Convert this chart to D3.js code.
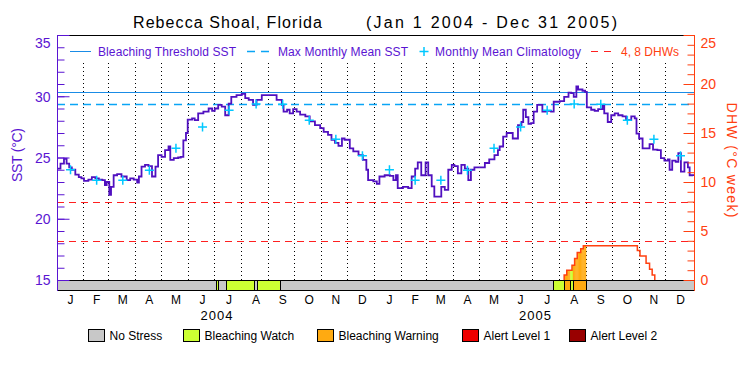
<!DOCTYPE html>
<meta charset="utf-8">
<style>
  body { margin: 0; background: #fff; }
  svg text { font-family: "Liberation Sans", Arial, sans-serif; }
</style>
<body>
<div id="chart"></div>
<script src="https://cdn.jsdelivr.net/npm/d3@7"></script>
<script>
  // ---- values ----
  var siteName = "Rebecca Shoal, Florida";
  var dateRange = "(Jan 1 2004 - Dec 31 2005)";
  var startDate = "2004-01-01", endDate = "2006-01-01";

  var monthLetters = ["J", "F", "M", "A", "M", "J", "J", "A", "S", "O", "N", "D"];
  var yearLabels = ["2004", "2005"];

  // monthly mean climatology (°C), Jan..Dec
  var climatology = [24.0, 23.15, 23.15, 23.95, 25.75, 27.5, 28.85, 29.37, 29.35, 28.05, 26.5, 25.15];
  var maxMonthlyMean = 29.37;
  var bleachThreshold = 30.37;
  var dhwLevels = [4, 8];

  // SST, day offset from Jan 1 2004
  var sstDay = [0, 4, 8, 11, 14, 17, 21, 25, 28, 31, 36, 40, 44, 48, 52, 55, 57, 60, 62, 65, 69, 74, 80, 84, 88, 92, 94, 97,
    101, 105, 109, 113, 116, 120, 124, 128, 130, 134, 139, 142, 145, 148, 150, 155, 158, 162, 168, 174, 178, 181, 185, 189,
    193, 197, 200, 206, 212, 216, 220, 225, 229, 235, 246, 252, 258, 260, 264, 267, 271, 275, 279, 285, 290, 296, 302, 306,
    311, 315, 319, 323, 327, 330, 336, 340, 346, 351, 355, 357, 363, 367, 370, 376, 382, 386, 389, 391, 397, 403, 407, 411,
    414, 418, 423, 426, 430, 433, 437, 441, 445, 449, 453, 456, 460, 464, 468, 472, 475, 479, 485, 491, 496, 502, 506, 508,
    512, 516, 520, 523, 527, 529, 533, 535, 538, 541, 544, 547, 551, 555, 557, 561, 567, 570, 577, 582, 587, 590, 593, 596,
    598, 603, 606, 608, 613, 617, 621, 626, 628, 632, 636, 640, 644, 649, 653, 659, 663, 665, 668, 672, 676, 680, 684, 689,
    693, 697, 701, 703, 706, 710, 713, 716, 720, 724, 726, 730];
  var sstValue = [24.1, 24.5, 24.9, 24.5, 24.2, 24.0, 23.6, 23.4, 23.3, 23.1, 23.2, 23.4, 23.3, 23.2, 23.15, 22.75, 23.0, 21.95,
    22.6, 23.55, 23.65, 23.45, 23.15, 23.3, 23.2, 22.95, 23.45, 24.25, 24.4, 24.3, 23.45, 24.25, 25.2, 25.05, 25.6, 25.9, 24.8,
    24.95, 25.0, 25.05, 26.4, 27.0, 28.1, 28.2, 28.05, 28.6, 28.75, 29.0, 28.8, 29.0, 29.3, 29.15, 28.45, 29.4, 29.95, 30.1,
    30.2, 29.85, 29.7, 29.3, 29.7, 30.1, 30.1, 29.7, 29.3, 28.75, 28.9, 28.6, 28.95, 28.75, 28.5, 28.35, 27.95, 27.65, 27.4,
    27.1, 26.85, 26.45, 26.2, 25.95, 26.55, 26.45, 25.75, 25.5, 25.2, 24.8, 24.0, 23.15, 23.05, 22.85, 23.45, 23.55, 23.5,
    23.15, 23.55, 22.5, 22.6, 22.5, 23.45, 24.1, 24.6, 23.55, 24.6, 23.55, 22.65, 21.8, 21.8, 22.6, 22.35, 24.0, 24.4, 24.3,
    23.7, 24.4, 24.1, 23.15, 24.0, 24.2, 24.2, 24.55, 24.85, 25.2, 25.6, 25.9, 26.7, 27.0, 27.0, 26.55, 26.55, 27.65, 27.9,
    28.9, 28.3, 27.75, 27.8, 28.75, 29.3, 29.3, 28.75, 28.8, 28.75, 29.55, 29.6, 29.95, 30.3, 30.25, 29.95, 30.8, 30.55,
    30.45, 30.35, 29.1, 28.9, 28.8, 28.95, 29.3, 28.6, 27.9, 28.45, 28.6, 28.45, 28.35, 28.05, 28.35, 28.2, 26.95, 26.55,
    25.75, 25.75, 26.1, 25.65, 25.6, 24.95, 24.75, 24.85, 24.0, 24.75, 24.65, 25.35, 23.85, 24.6, 24.2, 23.55, 23.5];

  // degree heating weeks (step changes)
  var dhwDay = [582, 585, 591, 594, 597, 601, 604, 666, 669, 676, 680, 683, 686];
  var dhwValue = [0.5, 1.0, 1.5, 2.2, 2.8, 3.2, 3.5, 3.0, 2.45, 1.7, 1.1, 0.5, 0];

  // bleaching alert status (segment start day, level)
  var statusNames = ["No Stress", "Bleaching Watch", "Bleaching Warning", "Alert Level 1", "Alert Level 2"];
  var statusColors = ["#c8c8c8", "#ccff33", "#ffaa11", "#ee0000", "#990000"];
  var statusStart = [0, 183, 185, 194, 226, 229, 256, 569, 582, 589, 592, 607];
  var statusLevel = [0, 1, 0, 1, 0, 1, 0, 1, 2, 1, 2, 0];

  // ---- colours ----
  var purple = "#5a14d2", lineColor = "#5010c0", orange = "#ff4010";
  var red = "#ff2020", threshColor = "#1a8ce6", mmmColor = "#0aa5f5", crossColor = "#00c8ff";

  var svgW = 750, svgH = 375;
  var pLeft = 57, pRight = 694, pTop = 35, pBottom = 280, barH = 10;
  var legendBoxX = [88, 183, 317, 462, 569];

  var svg = d3.select("#chart").append("svg")
    .attr("width", svgW)
    .attr("height", svgH);

  var t0 = d3.utcParse("%Y-%m-%d")(startDate);
  var t1 = d3.utcParse("%Y-%m-%d")(endDate);
  var nDays = d3.utcDay.count(t0, t1);
  function dayDate(d) { return d3.utcDay.offset(t0, d); }
  function midOf(d, interval) { return new Date((+d + +interval.offset(d, 1)) / 2); }

  var x = d3.scaleUtc().domain([t0, t1]).range([pLeft, pRight]);
  var ySst = d3.scaleLinear().domain([15, 35]).range([pBottom, pTop]);
  var yDhw = d3.scaleLinear().domain([0, 25]).range([pBottom, pTop]);

  function statusAt(d) { return statusLevel[d3.bisectRight(statusStart, d) - 1]; }
  function dhwAt(d) {
    var i = d3.bisectRight(dhwDay, d) - 1;
    return i < 0 ? 0 : dhwValue[i];
  }

  // title
  svg.append("text").attr("x", 133).attr("y", 28).attr("font-size", 16)
    .attr("textLength", 189).text(siteName);
  svg.append("text").attr("x", 366).attr("y", 28).attr("font-size", 16)
    .attr("textLength", 251).text(dateRange);

  // month boundary dotted lines
  var months = d3.utcMonth.range(t0, t1);
  svg.append("g").selectAll("line")
    .data(months.slice(1))
    .join("line")
    .attr("x1", d => Math.floor(x(d)) - 0.5)
    .attr("x2", d => Math.floor(x(d)) - 0.5)
    .attr("y1", 63).attr("y2", pBottom)
    .attr("stroke", "#000").attr("stroke-dasharray", "1,3");

  // DHW 4 and 8 dashed lines
  svg.append("g").selectAll("line")
    .data(dhwLevels)
    .join("line")
    .attr("x1", pLeft).attr("x2", pRight)
    .attr("y1", d => Math.round(yDhw(d)) + 0.5)
    .attr("y2", d => Math.round(yDhw(d)) + 0.5)
    .attr("stroke", red).attr("stroke-dasharray", "7,5");

  // bleaching threshold & MMM
  svg.append("line")
    .attr("x1", pLeft).attr("x2", pRight)
    .attr("y1", Math.round(ySst(bleachThreshold)) + 0.5).attr("y2", Math.round(ySst(bleachThreshold)) + 0.5)
    .attr("stroke", threshColor);
  svg.append("line")
    .attr("x1", pLeft).attr("x2", pRight)
    .attr("y1", Math.round(ySst(maxMonthlyMean)) + 0.5).attr("y2", Math.round(ySst(maxMonthlyMean)) + 0.5)
    .attr("stroke", mmmColor).attr("stroke-width", 1.5).attr("stroke-dasharray", "8,5");

  // DHW area, coloured by status
  var fillDays = d3.range(nDays).filter(d => statusAt(d) > 0 && dhwAt(d) > 0);
  svg.append("g").selectAll("rect")
    .data(fillDays)
    .join("rect")
    .attr("x", d => x(dayDate(d)))
    .attr("width", d => x(dayDate(d + 1)) - x(dayDate(d)) + 0.3)
    .attr("y", d => yDhw(dhwAt(d)))
    .attr("height", d => pBottom - yDhw(dhwAt(d)))
    .attr("fill", d => statusColors[statusAt(d)]);

  // DHW line
  var dhwPts = [[dhwDay[0], 0]].concat(dhwDay.map((d, i) => [d, dhwValue[i]]));
  svg.append("path")
    .datum(dhwPts)
    .attr("fill", "none").attr("stroke", orange).attr("stroke-width", 1.5)
    .attr("d", d3.line().x(d => x(dayDate(d[0]))).y(d => yDhw(d[1])).curve(d3.curveStepAfter));

  // SST line
  var sstPts = sstDay.map((d, i) => [d, sstValue[i]]);
  svg.append("path")
    .datum(sstPts)
    .attr("fill", "none").attr("stroke", lineColor).attr("stroke-width", 1.8)
    .attr("d", d3.line().x(d => x(dayDate(d[0]))).y(d => ySst(d[1])).curve(d3.curveStepAfter));

  // monthly climatology crosses
  var crossPath = "M-4.5,0H4.5M0,-4.5V4.5";
  svg.append("g").selectAll("path")
    .data(months)
    .join("path")
    .attr("transform", d => "translate(" + x(midOf(d, d3.utcMonth)) + "," +
      ySst(climatology[d.getUTCMonth()]) + ")")
    .attr("d", crossPath)
    .attr("stroke", crossColor).attr("stroke-width", 1.5);

  // status bar
  var segs = statusStart.map((s, i) => ({
    s: s,
    e: i + 1 < statusStart.length ? statusStart[i + 1] : nDays,
    level: statusLevel[i]
  }));
  svg.append("g").selectAll("rect")
    .data(segs)
    .join("rect")
    .attr("x", d => Math.round(x(dayDate(d.s))) + 0.5)
    .attr("width", d => Math.round(x(dayDate(d.e))) - Math.round(x(dayDate(d.s))))
    .attr("y", pBottom + 0.5).attr("height", barH)
    .attr("fill", d => statusColors[d.level])
    .attr("stroke", "#000");

  // top border
  svg.append("line").attr("x1", pLeft).attr("x2", pRight).attr("y1", pTop + 0.5).attr("y2", pTop + 0.5)
    .attr("stroke", "#000");

  // left axis
  var gLmin = svg.append("g").attr("transform", "translate(" + (pLeft + 0.5) + ",0)").attr("color", purple);
  gLmin.call(d3.axisLeft(ySst).tickValues(d3.range(15, 36)).tickSize(-7).tickSizeOuter(0).tickFormat(""));
  var gL = svg.append("g").attr("transform", "translate(" + (pLeft + 0.5) + ",0)").attr("color", purple);
  gL.call(d3.axisLeft(ySst).tickValues(d3.range(15, 36, 5)).tickSize(-12).tickSizeOuter(0).tickPadding(7));
  gL.selectAll("text").attr("font-size", 14).attr("font-family", null)
    .attr("dy", d => d === 35 ? "0.9em" : "0.35em");
  gLmin.select(".domain").remove();
  gL.select(".domain").remove();
  svg.append("line").attr("x1", pLeft + 0.5).attr("x2", pLeft + 0.5).attr("y1", pTop).attr("y2", pBottom + barH + 1)
    .attr("stroke", purple);

  // right axis
  var gRmin = svg.append("g").attr("transform", "translate(" + (pRight + 0.5) + ",0)").attr("color", orange);
  gRmin.call(d3.axisRight(yDhw).tickValues(d3.range(0, 26)).tickSize(-7).tickSizeOuter(0).tickFormat(""));
  var gR = svg.append("g").attr("transform", "translate(" + (pRight + 0.5) + ",0)").attr("color", orange);
  gR.call(d3.axisRight(yDhw).tickValues(d3.range(0, 26, 5)).tickSize(-11).tickSizeOuter(0).tickPadding(6));
  gR.selectAll("text").attr("font-size", 14).attr("font-family", null)
    .attr("dy", d => d === 25 ? "0.9em" : "0.35em");
  gRmin.select(".domain").remove();
  gR.select(".domain").remove();
  svg.append("line").attr("x1", pRight + 0.5).attr("x2", pRight + 0.5).attr("y1", pTop).attr("y2", pBottom + barH + 1)
    .attr("stroke", orange);

  // axis titles
  svg.append("text").attr("transform", "translate(17.5,155) rotate(-90)")
    .attr("text-anchor", "middle").attr("dy", "0.35em").attr("font-size", 14)
    .attr("fill", purple).attr("textLength", 54).text("SST (°C)");
  svg.append("text").attr("transform", "translate(731.5,160) rotate(90)")
    .attr("text-anchor", "middle").attr("dy", "0.35em").attr("font-size", 14)
    .attr("fill", orange).attr("textLength", 115).text("DHW (°C week)");

  // month and year labels
  svg.append("g").selectAll("text")
    .data(months)
    .join("text")
    .attr("x", d => x(midOf(d, d3.utcMonth)))
    .attr("y", 304)
    .attr("text-anchor", "middle").attr("font-size", 12)
    .text(d => monthLetters[d.getUTCMonth()]);
  var years = d3.utcYear.range(t0, t1);
  svg.append("g").selectAll("text")
    .data(years)
    .join("text")
    .attr("x", d => x(midOf(d, d3.utcYear)) - 16)
    .attr("y", 319.5)
    .attr("font-size", 13).attr("textLength", 32)
    .text((d, i) => yearLabels[i]);

  // top legend
  var ly = 51.5;
  var lg = svg.append("g").attr("font-size", 12);
  lg.append("line").attr("x1", 70).attr("x2", 91).attr("y1", ly).attr("y2", ly).attr("stroke", threshColor);
  lg.append("text").attr("x", 98).attr("y", ly + 4).attr("fill", purple).attr("textLength", 138)
    .text("Bleaching Threshold SST");
  lg.append("line").attr("x1", 247).attr("x2", 272).attr("y1", ly).attr("y2", ly)
    .attr("stroke", mmmColor).attr("stroke-width", 1.5).attr("stroke-dasharray", "8,6");
  lg.append("text").attr("x", 278).attr("y", ly + 4).attr("fill", purple).attr("textLength", 130)
    .text("Max Monthly Mean SST");
  lg.append("path").attr("transform", "translate(424," + ly + ")").attr("d", crossPath)
    .attr("stroke", crossColor).attr("stroke-width", 1.5);
  lg.append("text").attr("x", 435).attr("y", ly + 4).attr("fill", purple).attr("textLength", 146)
    .text("Monthly Mean Climatology");
  lg.append("line").attr("x1", 591).attr("x2", 615).attr("y1", ly).attr("y2", ly)
    .attr("stroke", red).attr("stroke-dasharray", "7,6");
  lg.append("text").attr("x", 621).attr("y", ly + 4).attr("fill", orange).attr("textLength", 58)
    .text("4, 8 DHWs");

  // bottom legend
  var items = svg.append("g").attr("font-size", 12)
    .selectAll("g").data(statusNames).join("g")
    .attr("transform", (d, i) => "translate(" + (legendBoxX[i] + 0.5) + ",0)");
  items.append("rect").attr("width", 16).attr("height", 12).attr("y", 329.5)
    .attr("fill", (d, i) => statusColors[i]).attr("stroke", "#000");
  items.append("text").attr("x", 21).attr("y", 340).text(d => d);
</script>
</body>
